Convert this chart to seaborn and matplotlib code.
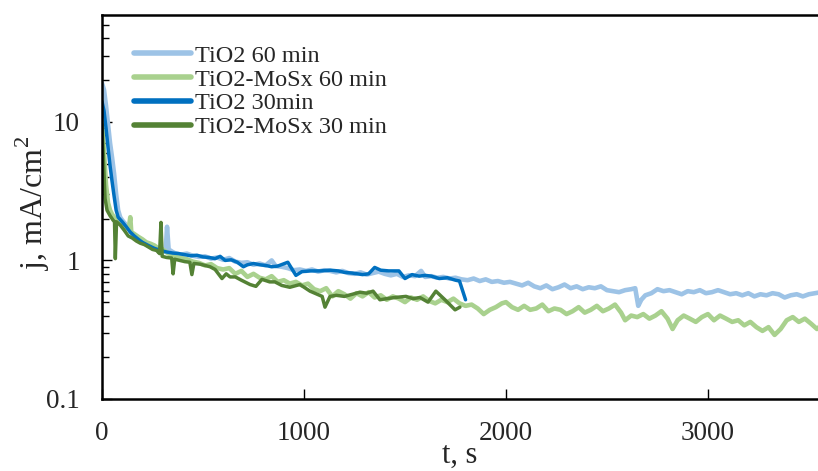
import numpy as np
import pandas as pd
import matplotlib
matplotlib.use("Agg")
import matplotlib.pyplot as plt
import seaborn as sns
from matplotlib.ticker import LogLocator, NullFormatter, FixedLocator, FixedFormatter

# ---------------- data ----------------
t_tio2_60 = [0, 10, 20, 30, 40, 50, 60, 70, 80, 90, 100, 120, 140, 160, 180, 200, 220, 240, 260, 280,
             300, 315, 322, 330, 350, 360, 390, 420, 450, 480, 510, 540, 570, 600, 630, 660, 690, 720,
             750, 780, 810, 840, 860, 890, 920, 950, 980, 1010, 1040, 1070, 1100, 1130, 1160, 1190,
             1220, 1250, 1280, 1310, 1340, 1370, 1400, 1430, 1460, 1490, 1520, 1550, 1580, 1600, 1630,
             1660, 1690, 1720, 1750, 1780, 1810, 1840, 1870, 1900, 1930, 1960, 1990, 2020, 2050, 2080,
             2110, 2140, 2170, 2200, 2230, 2260, 2290, 2320, 2350, 2380, 2410, 2440, 2470, 2500, 2530,
             2560, 2590, 2620, 2640, 2655, 2670, 2690, 2720, 2750, 2780, 2810, 2840, 2870, 2900, 2930,
             2960, 2990, 3020, 3050, 3080, 3110, 3140, 3170, 3200, 3230, 3260, 3290, 3320, 3350, 3380,
             3410, 3440, 3470, 3500, 3530, 3560]
j_tio2_60 = [19, 17, 13, 9.5, 7, 5.5, 4.2, 3.0, 2.3, 2.05, 1.95, 1.8, 1.62, 1.5, 1.42, 1.35, 1.3, 1.25,
             1.22, 1.2, 1.17, 1.15, 1.75, 1.2, 1.15, 1.13, 1.10, 1.12, 1.08, 1.06, 1.07, 1.03, 1.05, 1.01,
             1.04, 0.98, 0.96, 0.97, 0.93, 0.95, 0.92, 1.0, 0.91, 0.90, 0.88, 0.85, 0.86, 0.84, 0.86,
             0.83, 0.85, 0.84, 0.82, 0.84, 0.81, 0.80, 0.82, 0.79, 0.81, 0.83, 0.80, 0.78, 0.80, 0.76,
             0.78, 0.77, 0.84, 0.76, 0.77, 0.75, 0.76, 0.74, 0.75, 0.73, 0.72, 0.74, 0.71, 0.73, 0.70,
             0.71, 0.69, 0.70, 0.68, 0.66, 0.69, 0.65, 0.63, 0.66, 0.62, 0.64, 0.67, 0.63, 0.65, 0.62,
             0.64, 0.63, 0.65, 0.61, 0.60, 0.59, 0.61, 0.62, 0.63, 0.47, 0.52, 0.56, 0.58, 0.62, 0.60,
             0.61, 0.59, 0.57, 0.60, 0.59, 0.61, 0.58, 0.59, 0.61, 0.59, 0.57, 0.58, 0.56, 0.58, 0.55,
             0.57, 0.56, 0.58, 0.57, 0.54, 0.56, 0.57, 0.55, 0.57, 0.58, 0.59]

t_mosx_60 = [0, 10, 20, 30, 40, 50, 60, 80, 100, 120, 135, 140, 145, 160, 180, 200, 220, 240, 260, 280,
             300, 330, 360, 390, 420, 450, 480, 510, 540, 570, 600, 630, 660, 690, 720, 750, 780, 810,
             840, 870, 900, 930, 960, 990, 1020, 1050, 1080, 1110, 1140, 1170, 1200, 1230, 1260, 1290,
             1320, 1350, 1380, 1410, 1440, 1470, 1500, 1530, 1560, 1590, 1620, 1650, 1680, 1710, 1740,
             1770, 1800, 1830, 1860, 1890, 1920, 1950, 1980, 2000, 2030, 2060, 2090, 2120, 2150, 2180,
             2210, 2240, 2270, 2300, 2330, 2360, 2390, 2420, 2450, 2480, 2510, 2540, 2570, 2590, 2620,
             2650, 2680, 2710, 2740, 2770, 2800, 2825, 2850, 2880, 2910, 2940, 2970, 3000, 3030, 3060,
             3090, 3120, 3150, 3180, 3210, 3240, 3270, 3300, 3330, 3360, 3390, 3420, 3450, 3480, 3510,
             3540, 3560]
j_mosx_60 = [10, 6, 3.5, 2.6, 2.3, 2.15, 2.05, 1.95, 1.85, 1.7, 1.8, 2.05, 1.6, 1.55, 1.48, 1.42, 1.35,
             1.32, 1.28, 1.22, 1.2, 1.12, 1.08, 1.04, 1.02, 0.98, 0.96, 0.92, 0.94, 0.88, 0.86, 0.88,
             0.80, 0.84, 0.76, 0.80, 0.75, 0.73, 0.77, 0.70, 0.72, 0.68, 0.70, 0.66, 0.68, 0.62, 0.60,
             0.63, 0.55, 0.60, 0.57, 0.53, 0.58, 0.55, 0.59, 0.54, 0.56, 0.52, 0.55, 0.53, 0.50, 0.54,
             0.52, 0.55, 0.51, 0.49, 0.52, 0.50, 0.53, 0.49, 0.47, 0.48, 0.45, 0.41, 0.44, 0.46, 0.49,
             0.50, 0.46, 0.44, 0.47, 0.44, 0.45, 0.48, 0.43, 0.45, 0.44, 0.41, 0.43, 0.46, 0.42, 0.44,
             0.47, 0.43, 0.45, 0.48, 0.42, 0.37, 0.40, 0.39, 0.41, 0.38, 0.40, 0.43, 0.38, 0.32, 0.37,
             0.40, 0.38, 0.36, 0.39, 0.41, 0.37, 0.40, 0.38, 0.36, 0.37, 0.34, 0.36, 0.33, 0.31, 0.33,
             0.29, 0.32, 0.37, 0.39, 0.36, 0.38, 0.35, 0.32, 0.34]

t_tio2_30 = [0, 10, 20, 30, 40, 50, 60, 70, 80, 100, 120, 140, 160, 180, 200, 230, 260, 290, 320, 350,
             380, 410, 440, 470, 500, 530, 560, 585, 610, 640, 670, 700, 720, 750, 780, 810, 840, 870,
             920, 960, 990, 1030, 1080, 1130, 1170, 1200, 1240, 1290, 1320, 1350, 1380, 1420, 1470,
             1500, 1535, 1570, 1600, 1630, 1670, 1710, 1750, 1770, 1800]
j_tio2_30 = [14, 12, 9, 6.5, 4.8, 3.7, 2.9, 2.3, 2.05, 1.9, 1.75, 1.6, 1.5, 1.42, 1.35, 1.28, 1.22, 1.18,
             1.15, 1.13, 1.12, 1.10, 1.08, 1.09, 1.06, 1.05, 1.03, 1.07, 1.0, 1.01, 0.97, 0.90, 0.93,
             0.95, 0.93, 0.92, 0.90, 0.91, 0.97, 0.78, 0.83, 0.84, 0.84, 0.85, 0.84, 0.82, 0.81, 0.79,
             0.80, 0.89, 0.85, 0.84, 0.84, 0.74, 0.79, 0.77, 0.78, 0.77, 0.74, 0.75, 0.72, 0.71, 0.52]

t_mosx_30 = [0, 8, 15, 25, 40, 55, 62, 66, 72, 90, 110, 130, 150, 170, 190, 210, 230, 250, 270, 285,
             292, 298, 320, 345, 352, 360, 385, 410, 435, 445, 455, 485, 510, 535, 560, 594, 615, 634,
             660, 690, 733, 762, 792, 830, 856, 890, 930, 980, 1030, 1090, 1104, 1129, 1160, 1200,
             1240, 1277, 1310, 1342, 1376, 1410, 1450, 1505, 1540, 1574, 1614, 1653, 1698, 1748, 1772]
j_mosx_30 = [9.6, 5, 2.8, 2.3, 2.1, 1.95, 1.9, 1.03, 1.9, 1.8, 1.65, 1.5, 1.45, 1.38, 1.33, 1.3, 1.25,
             1.2, 1.18, 1.12, 1.88, 1.07, 1.05, 1.04, 0.80, 1.02, 1.0, 0.98, 0.97, 0.79, 0.95, 0.94,
             0.92, 0.90, 0.86, 0.74, 0.80, 0.76, 0.76, 0.72, 0.67, 0.65, 0.73, 0.70, 0.70, 0.66, 0.64,
             0.67, 0.60, 0.55, 0.46, 0.55, 0.56, 0.55, 0.57, 0.59, 0.58, 0.60, 0.52, 0.53, 0.54, 0.55,
             0.53, 0.54, 0.50, 0.60, 0.52, 0.44, 0.46]

labels = ["TiO2 60 min", "TiO2-MoSx 60 min", "TiO2 30min", "TiO2-MoSx 30 min"]
colors = ["#9DC3E6", "#A9D18E", "#0070C0", "#548235"]
widths = [3.3, 3.3, 2.5, 2.5]
y_ticks = [0.1, 1, 10]
y_ticklabels = ["0.1", "1", "10"]
x_ticks = [0, 1000, 2000, 3000]
x_ticklabels = ["0", "1000", "2000", "3000"]

series = [(t_tio2_60, j_tio2_60), (t_mosx_60, j_mosx_60), (t_tio2_30, j_tio2_30), (t_mosx_30, j_mosx_30)]

# ---------------- plot ----------------
sns.set_style("white")
plt.rcParams["font.family"] = ["Liberation Serif", "DejaVu Serif"]
plt.rcParams["mathtext.fontset"] = "custom"
plt.rcParams["mathtext.rm"] = "Liberation Serif"

fig = plt.figure(figsize=(8.18, 4.71), dpi=100)
ax = fig.add_axes([102 / 818, 72 / 471, 1 - 102 / 818, 384 / 471])

for (t, j), lab, c, w in zip(series, labels, colors, widths):
    df = pd.DataFrame({"t": t, "j": j})
    sns.lineplot(data=df, x="t", y="j", ax=ax, color=c, lw=w, label=lab,
                 estimator=None, sort=False)

ax.set_yscale("log")
ax.set_xlim(0, 3545)
ax.set_ylim(0.1, 59)

ax.yaxis.set_major_locator(FixedLocator(y_ticks))
ax.yaxis.set_major_formatter(FixedFormatter(y_ticklabels))
ax.yaxis.set_minor_locator(LogLocator(base=10, subs=np.arange(2, 10), numticks=20))
ax.yaxis.set_minor_formatter(NullFormatter())
ax.set_xticks(x_ticks)
ax.set_xticklabels(x_ticklabels)

ax.tick_params(axis="both", which="both", direction="in", color="black", width=1.0)
ax.tick_params(axis="y", which="major", length=7, pad=16, labelsize=19.5, left=True)
ax.tick_params(axis="y", which="minor", length=5, left=True)
ax.tick_params(axis="x", which="major", length=7, pad=16, labelsize=19.5, bottom=True)
ax.tick_params(axis="x", which="minor", bottom=False)

for s in ["left", "bottom", "top"]:
    ax.spines[s].set_color("black")
    ax.spines[s].set_linewidth(1.8)
ax.spines["right"].set_visible(False)

ax.set_xlabel("t, s", fontsize=22)
ax.set_ylabel(r"j, mA/cm$^{\mathregular{2}}$", fontsize=23)
ax.xaxis.set_label_coords(0.5, -0.11)
ax.yaxis.set_label_coords(-0.07, 0.51)

leg = ax.legend(loc="upper left", bbox_to_anchor=(0.045, 0.922), frameon=False, fontsize=17.5,
                handlelength=2.35, handletextpad=0.15, labelspacing=0.07, borderpad=0, borderaxespad=0)
for line in leg.get_lines():
    line.set_linewidth(4)

fig.savefig("out.png", dpi=100)
